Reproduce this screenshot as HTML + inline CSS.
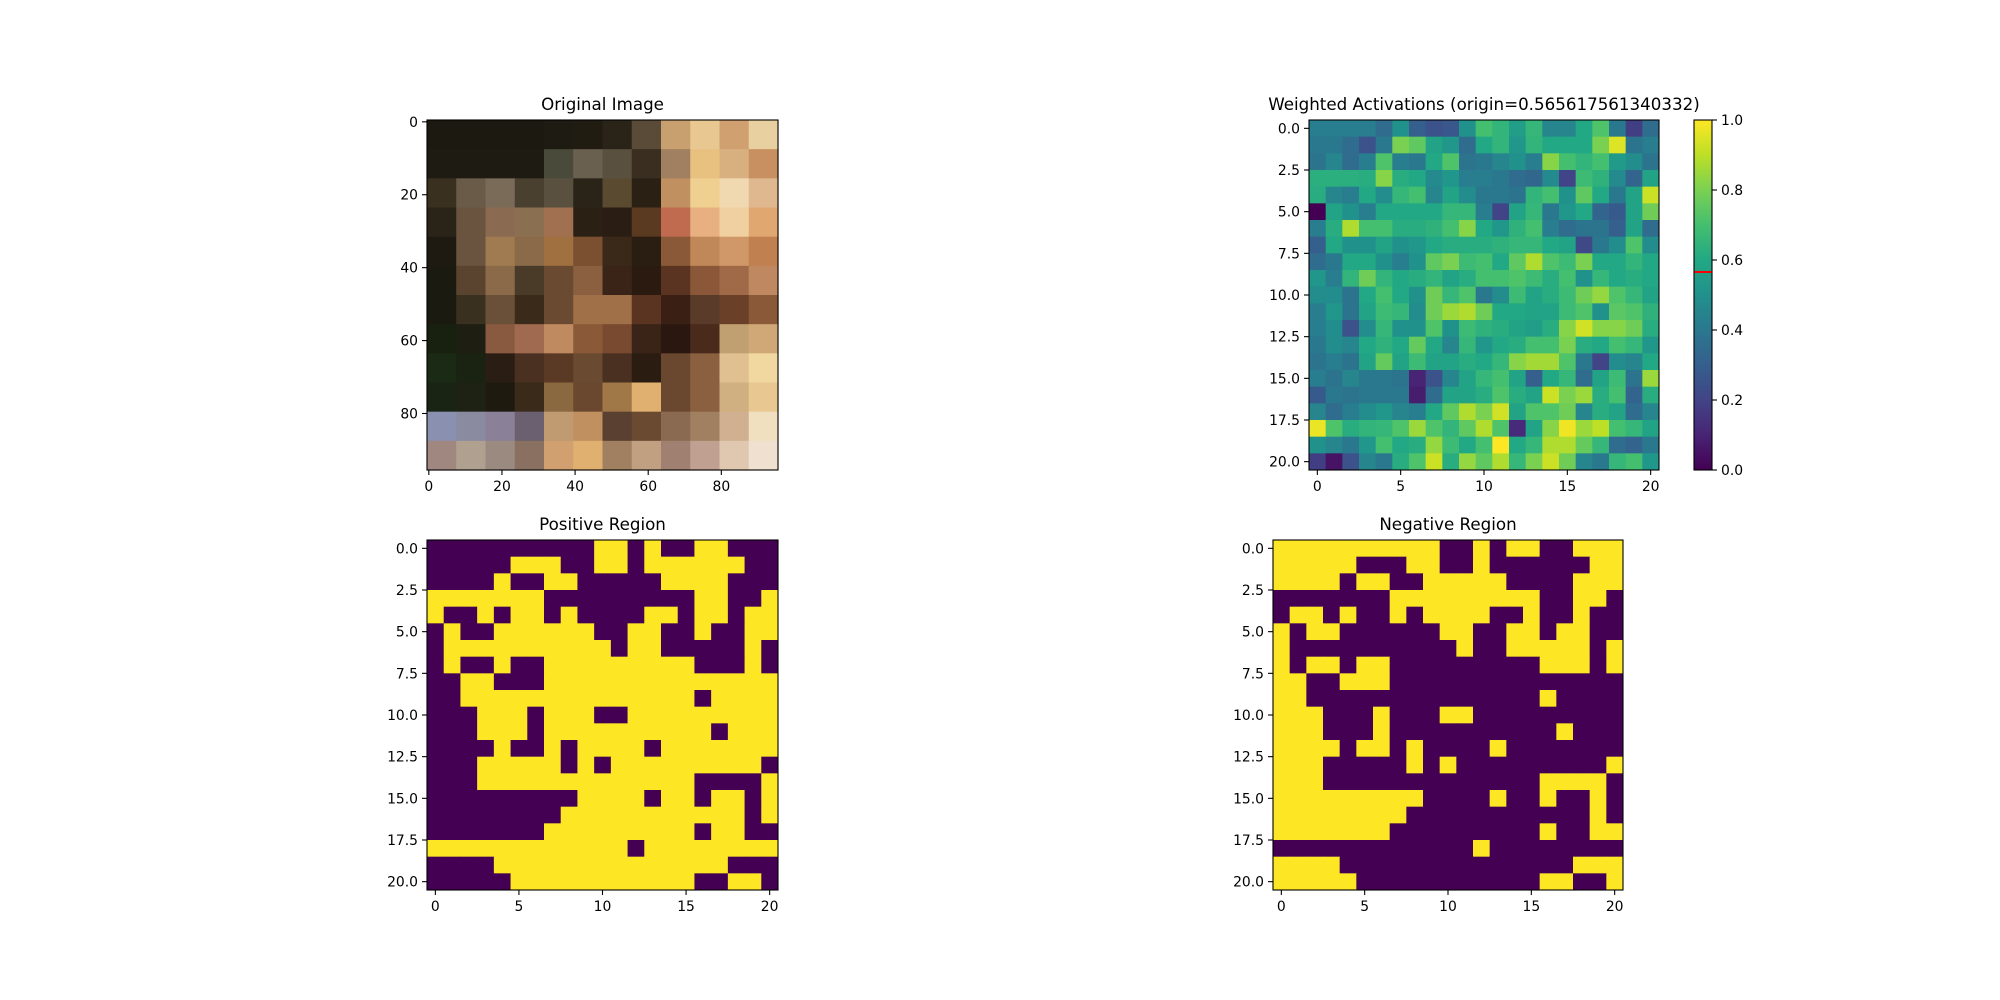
<!DOCTYPE html>
<html><head><meta charset="utf-8">
<style>
html,body{margin:0;padding:0;background:#fff;}
svg{display:block;}
text{font-family:"DejaVu Sans","Liberation Sans",sans-serif;fill:#000;}
</style></head>
<body>
<svg id="fig" width="2000" height="1000" viewBox="0 0 2000 1000" xmlns="http://www.w3.org/2000/svg">
<defs>
<linearGradient id="vir" x1="0" y1="1" x2="0" y2="0"></linearGradient>
</defs>
<g id="root"></g>
</svg>
<script>
// ---- data ----
const ORIGIN = 0.565617561340332;
const actRow0 = [.42,.42,.42,.42,.35,.5,.3,.25,.27,.5,.7,.65,.55,.66,.45,.45,.6,.72,.4,.18,.35];
const actRow1 = [.4,.4,.35,.25,.4,.8,.75,.58,.52,.35,.6,.65,.52,.65,.6,.6,.6,.8,.95,.38,.42];
const actRow2 = [.38,.45,.35,.42,.72,.42,.4,.6,.72,.38,.4,.45,.5,.42,.82,.7,.65,.7,.54,.48,.38];
const actRow3 = [.63,.63,.63,.62,.82,.62,.6,.47,.52,.42,.42,.4,.35,.33,.47,.2,.68,.64,.47,.32,.58];
const actRow4 = [.62,.45,.42,.6,.48,.66,.7,.45,.58,.48,.4,.4,.38,.65,.7,.5,.75,.6,.4,.58,.92];
const actRow5 = [.0,.58,.5,.42,.6,.6,.6,.6,.66,.66,.42,.2,.58,.66,.4,.52,.6,.32,.28,.58,.78];
const actRow6 = [.42,.62,.88,.7,.7,.62,.62,.64,.7,.82,.6,.52,.64,.7,.42,.35,.38,.38,.3,.58,.35];
const actRow7 = [.3,.6,.5,.5,.58,.5,.52,.6,.62,.62,.62,.64,.66,.66,.6,.58,.22,.4,.48,.72,.48];
const actRow8 = [.35,.4,.6,.6,.5,.42,.5,.75,.8,.68,.7,.6,.75,.88,.72,.68,.8,.6,.6,.65,.6];
const actRow9 = [.52,.42,.65,.78,.65,.6,.62,.65,.58,.62,.7,.7,.72,.68,.62,.7,.5,.66,.6,.62,.6];
const actRow10 = [.48,.48,.38,.6,.7,.6,.5,.78,.66,.72,.4,.48,.68,.58,.62,.68,.78,.84,.72,.66,.58];
const actRow11 = [.42,.52,.38,.58,.68,.66,.48,.78,.85,.88,.78,.6,.6,.58,.58,.68,.72,.5,.74,.72,.64];
const actRow12 = [.42,.48,.25,.48,.66,.5,.5,.72,.5,.68,.64,.62,.58,.55,.62,.82,.93,.82,.82,.78,.62];
const actRow13 = [.4,.48,.45,.6,.64,.6,.76,.6,.45,.66,.52,.6,.62,.7,.7,.8,.62,.6,.7,.66,.52];
const actRow14 = [.38,.42,.38,.58,.76,.58,.68,.58,.58,.62,.6,.66,.82,.86,.86,.72,.4,.2,.48,.45,.6];
const actRow15 = [.42,.38,.45,.4,.4,.38,.1,.25,.45,.58,.66,.7,.58,.3,.6,.66,.35,.58,.68,.38,.85];
const actRow16 = [.28,.4,.38,.4,.4,.4,.08,.35,.58,.58,.62,.72,.62,.58,.92,.8,.85,.62,.7,.32,.62];
const actRow17 = [.45,.35,.42,.48,.52,.45,.42,.6,.75,.88,.8,.93,.58,.72,.72,.78,.45,.62,.58,.35,.45];
const actRow18 = [.97,.72,.62,.65,.66,.72,.85,.72,.65,.75,.88,.72,.12,.58,.82,.98,.85,.9,.7,.66,.58];
const actRow19 = [.5,.45,.4,.52,.7,.6,.62,.84,.68,.6,.7,1.0,.6,.66,.88,.88,.76,.66,.35,.32,.4];
const actRow20 = [.18,.05,.25,.45,.4,.62,.72,.92,.62,.84,.75,.88,.66,.8,.92,.78,.45,.4,.66,.7,.52];
const activations = [actRow0,actRow1,actRow2,actRow3,actRow4,actRow5,actRow6,actRow7,actRow8,actRow9,actRow10,actRow11,actRow12,actRow13,actRow14,actRow15,actRow16,actRow17,actRow18,actRow19,actRow20];

const imgRows = [
["#1c1a10","#1c1a10","#1c1a10","#1c1a10","#1e1c12","#201c12","#2a2418","#5a4a38","#c8a070","#e8c890","#d0a070","#e8d0a0"],
["#1e1c12","#1e1c12","#1e1c12","#1e1c12","#4a4a3a","#6a6050","#5a5040","#3a2e20","#a08060","#e8c080","#d8b080","#c89060"],
["#3a3020","#6a5a48","#7a6a58","#4a4030","#5a5040","#2a2418","#5a4a30","#2a2014","#c09060","#f0d090","#f0d8b0","#e0b890"],
["#2a2418","#6a5440","#8a6a50","#8a7050","#a07050","#2a2014","#2a1e14","#5a3a20","#c06a50","#e8b080","#f0d0a0","#e0a870"],
["#1e1a12","#6a5440","#a07a50","#8a6a48","#a07040","#7a5030","#3a2818","#2a1e12","#8a5a38","#c08858","#d09868","#c08050"],
["#1a1a10","#5a4430","#8a6a48","#4a3a28","#6a4a30","#8a6040","#3a2418","#2a1a10","#5a3420","#8a5838","#a06a48","#c08860"],
["#1a1a10","#3a3020","#6a5038","#3a2a1a","#6a4a30","#a07048","#a07048","#5a3420","#3a2014","#5a3a28","#6a4028","#8a5a38"],
["#182010","#1e1e12","#8a5a40","#a06a50","#c08a60","#8a5a38","#7a4a30","#3a2418","#2a1810","#4a2a1a","#c0a070","#d0a878"],
["#1a2a14","#1a2212","#2a1e14","#4a3020","#5a3a24","#6a4a30","#4a3020","#2a1c10","#6a4830","#8a6040","#e0c090","#f0d8a0"],
["#1a2414","#1e2214","#1e1a10","#3a2a1a","#8a6840","#6a4830","#a07848","#e0b070","#6a4830","#8a6040","#d0b080","#e8c890"],
["#8a90b0","#8a8aa0","#8a8098","#6a6070","#c09a70","#c09060","#5a4030","#6a4a30","#8a6a50","#a08060","#d0b090","#f0e0c0"],
["#a08880","#b0a090","#9a8a80","#8a7060","#d0a070","#e0b070","#a08060","#c0a080","#a08070","#c0a090","#e0c8b0","#f0e0d0"]];

const imgTicks = [0,20,40,60,80];
const gridTicksY = [0,2.5,5,7.5,10,12.5,15,17.5,20];
const gridTicksX = [0,5,10,15,20];
const cbarTicks = [0,0.2,0.4,0.6,0.8,1.0];

// ---- helpers ----
const NS = "http://www.w3.org/2000/svg";
const root = document.getElementById('root');
function mk(tag, attrs, parent){ const e=document.createElementNS(NS,tag); for(const k in attrs) e.setAttribute(k,attrs[k]); (parent||root).appendChild(e); return e; }
const VIR = [[0,"#440154"],[0.1,"#482475"],[0.2,"#414487"],[0.3,"#355f8d"],[0.4,"#2a788e"],[0.5,"#21918c"],[0.6,"#22a884"],[0.7,"#44bf70"],[0.8,"#7ad151"],[0.9,"#bddf26"],[1,"#fde725"]];
function hex(h){return [parseInt(h.substr(1,2),16),parseInt(h.substr(3,2),16),parseInt(h.substr(5,2),16)];}
function viridis(v){ v=Math.max(0,Math.min(1,v)); for(let i=0;i<VIR.length-1;i++){ const [a,ca]=VIR[i],[b,cb]=VIR[i+1]; if(v<=b){ const t=(v-a)/(b-a), A=hex(ca),B=hex(cb); return `rgb(${Math.round(A[0]+(B[0]-A[0])*t)},${Math.round(A[1]+(B[1]-A[1])*t)},${Math.round(A[2]+(B[2]-A[2])*t)})`; } } return VIR[VIR.length-1][1]; }
const grad = document.getElementById('vir');
VIR.forEach(([o,c])=>{ const s=document.createElementNS(NS,'stop'); s.setAttribute('offset',o); s.setAttribute('stop-color',c); grad.appendChild(s); });

function axes(name, x0, y0, w, h, title){
  const g = mk('g',{});
  
  
  const t = mk('text',{x:x0+w/2,y:y0-10,'text-anchor':'middle','font-size':16.7},g);
  t.textContent = title;
  
  
  return g;
}
function frame(g,x0,y0,w,h){ const r=mk('rect',{x:x0,y:y0,width:w,height:h,fill:'none',stroke:'#000','stroke-width':1.1},g);   }
function xTicks(g, vals, fx, yb, fmt){
  vals.forEach(v=>{ const x=fx(v);
    mk('line',{x1:x,y1:yb,x2:x,y2:yb+5,stroke:'#000','stroke-width':1.1},g);
    const t=mk('text',{x:x,y:yb+21,'text-anchor':'middle','font-size':13.9},g); t.textContent=fmt(v);
      });
}
function yTicks(g, vals, fy, xl, fmt, right){
  vals.forEach(v=>{ const y=fy(v);
    if(right){ mk('line',{x1:xl,y1:y,x2:xl+5,y2:y,stroke:'#000','stroke-width':1.1},g);
      const t=mk('text',{x:xl+9,y:y+5,'text-anchor':'start','font-size':13.9},g); t.textContent=fmt(v);
        }
    else { mk('line',{x1:xl,y1:y,x2:xl-5,y2:y,stroke:'#000','stroke-width':1.1},g);
      const t=mk('text',{x:xl-9,y:y+5,'text-anchor':'end','font-size':13.9},g); t.textContent=fmt(v);
        }
  });
}

// ---- Original image ----
(function(){
  const x0=427,y0=120,w=351,h=350,N=96;
  const g=axes('original-image-axes',x0,y0,w,h,'Original Image');
  const n=imgRows.length, cw=w/n, ch=h/n;
  imgRows.forEach((row,r)=>row.forEach((c,k)=>{
    const e=mk('rect',{x:x0+k*cw,y:y0+r*ch,width:cw+0.6,height:ch+0.6,fill:c},g);
     
  }));
  frame(g,x0,y0,w,h);
  const fx=v=>x0+(v+0.5)*w/N, fy=v=>y0+(v+0.5)*h/N;
  xTicks(g,imgTicks,fx,y0+h,v=>String(v));
  yTicks(g,imgTicks,fy,x0,v=>String(v));
})();

// ---- grid plotting ----
function gridPlot(name,x0,y0,w,h,title,colorFn){
  const g=axes(name,x0,y0,w,h,title);
  const N=21, cw=w/N, ch=h/N;
  activations.forEach((row,r)=>row.forEach((v,k)=>{
    const e=mk('rect',{x:x0+k*cw,y:y0+r*ch,width:cw+0.5,height:ch+0.5,fill:colorFn(v)},g);
     
  }));
  frame(g,x0,y0,w,h);
  const fx=v=>x0+(v+0.5)*cw, fy=v=>y0+(v+0.5)*ch;
  xTicks(g,gridTicksX,fx,y0+h,v=>String(v));
  yTicks(g,gridTicksY,fy,x0,v=>v.toFixed(1));
}
gridPlot('weighted-activations-axes',1309,120,350,350,'Weighted Activations (origin=0.565617561340332)',v=>viridis(v));
gridPlot('positive-region-axes',427,540,351,350,'Positive Region',v=>v>ORIGIN?'#fde725':'#440154');
gridPlot('negative-region-axes',1273,540,350,350,'Negative Region',v=>v<ORIGIN?'#fde725':'#440154');

// ---- colorbar ----
(function(){
  const x0=1694,y0=120,w=18,h=350;
  const g=mk('g',{});
  
  
  mk('rect',{x:x0,y:y0,width:w,height:h,fill:'url(#vir)'},g);
  const fy=v=>y0+h-v*h;
  const red=mk('line',{x1:x0,y1:fy(ORIGIN),x2:x0+w,y2:fy(ORIGIN),stroke:'#ff0000','stroke-width':2},g);
   
  frame(g,x0,y0,w,h);
  yTicks(g,cbarTicks,fy,x0+w,v=>v.toFixed(1),true);
})();
</script>
</body></html>
